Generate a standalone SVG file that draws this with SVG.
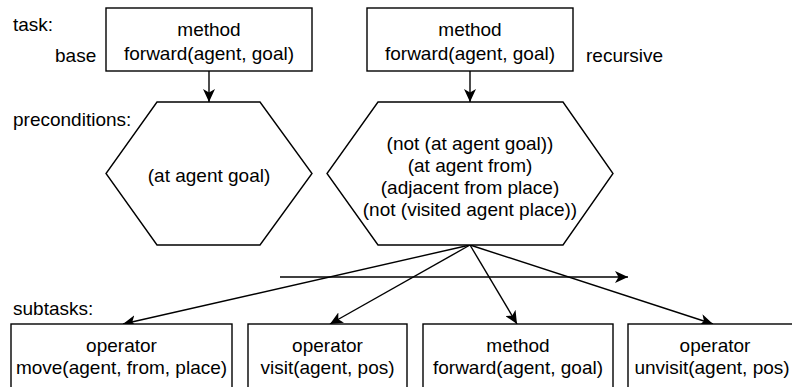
<svg xmlns="http://www.w3.org/2000/svg" width="792" height="387" viewBox="0 0 792 387">
<defs>
<marker id="arr" markerUnits="userSpaceOnUse" markerWidth="14" markerHeight="12" viewBox="0 0 14 12" refX="13" refY="6" orient="auto">
<path d="M0,0 L13,6 L0,12 L3.5,6 Z" fill="#000"/>
</marker>
<style>
text{font-family:"Liberation Sans",Arial,Helvetica,sans-serif;font-size:19px;fill:#000}
.c{text-anchor:middle}
.s{fill:#fff;stroke:#000;stroke-width:1.4}
.e{fill:none;stroke:#000;stroke-width:1.4;marker-end:url(#arr)}
</style>
</defs>
<rect width="792" height="387" fill="#fff"/>
<g id="labels">
<text x="13" y="31">task:</text>
<text x="55" y="62">base</text>
<text x="586" y="62">recursive</text>
<text x="13" y="126">preconditions:</text>
<text x="13" y="315">subtasks:</text>
</g>
<g id="connectors">
<line class="e" x1="209" y1="71" x2="209" y2="102"/>
<line class="e" x1="470" y1="71" x2="470" y2="102"/>
<line class="e" x1="280" y1="277" x2="628" y2="277"/>
<line class="e" x1="470" y1="245" x2="123" y2="324"/>
<line class="e" x1="470" y1="245" x2="330" y2="324"/>
<line class="e" x1="470" y1="245" x2="517" y2="324"/>
<line class="e" x1="470" y1="245" x2="713" y2="324"/>
</g>
<g id="base-method">
<rect class="s" x="106" y="8" width="206" height="63"/>
<text class="c" x="209" y="36">method</text>
<text class="c" x="209" y="60">forward(agent, goal)</text>
</g>
<g id="recursive-method">
<rect class="s" x="367" y="8" width="206" height="63"/>
<text class="c" x="470" y="36">method</text>
<text class="c" x="470" y="60">forward(agent, goal)</text>
</g>
<g id="base-pre">
<polygon class="s" points="157,102 260,102 312,173.5 260,245 157,245 106,173.5"/>
<text class="c" x="209" y="182">(at agent goal)</text>
</g>
<g id="recursive-pre">
<polygon class="s" points="378,102 563,102 613,173.5 563,245 378,245 327,173.5"/>
<text class="c" x="470" y="150">(not (at agent goal))</text>
<text class="c" x="470" y="172">(at agent from)</text>
<text class="c" x="470" y="194">(adjacent from place)</text>
<text class="c" x="470" y="216">(not (visited agent place))</text>
</g>
<g id="move">
<rect class="s" x="11" y="324" width="221" height="80"/>
<text class="c" x="121.5" y="352">operator</text>
<text class="c" x="121.5" y="374">move(agent, from, place)</text>
</g>
<g id="visit">
<rect class="s" x="248" y="324" width="159" height="80"/>
<text class="c" x="327.5" y="352">operator</text>
<text class="c" x="327.5" y="374">visit(agent, pos)</text>
</g>
<g id="forward">
<rect class="s" x="423" y="324" width="190" height="80"/>
<text class="c" x="518" y="352">method</text>
<text class="c" x="518" y="374">forward(agent, goal)</text>
</g>
<g id="unvisit">
<rect class="s" x="628" y="324" width="178" height="80"/>
<text class="c" x="715" y="352">operator</text>
<text class="c" x="712" y="374">unvisit(agent, pos)</text>
</g>
</svg>
